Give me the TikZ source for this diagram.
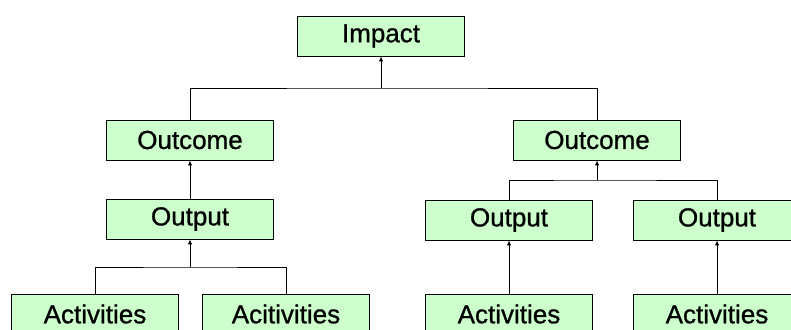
\documentclass[tikz,border=0pt]{standalone}
\usepackage{fontspec}
\setmainfont{Liberation Sans}
\newfontfamily\boxfont[FakeBold=0.9]{Liberation Sans}
\usetikzlibrary{arrows.meta}
\definecolor{boxgreen}{HTML}{CCFFCC}
\tikzset{
  box/.style={draw=black, fill=boxgreen, line width=0.9pt, minimum width=167pt, minimum height=40pt, inner sep=0pt, font=\boxfont\fontsize{26}{27}\selectfont, anchor=center},
  conn/.style={line width=0.9pt, draw=black},
  arr/.style={conn, -{Latex[length=5pt,width=4.5pt]}}
}
\begin{document}
\begin{tikzpicture}[x=1pt,y=-1pt]
\useasboundingbox (0,0) rectangle (791,329);
\begin{scope}
\clip (0,0) rectangle (791,329);
\node[box] (impact) at (381,36) {Impact};
\node[box] (outL) at (190,140) {Outcome};
\node[box] (outR) at (597,140) {Outcome};
\node[box] (opL) at (190,219) {Output};
\node[box] (opM) at (509,220) {Output};
\node[box] (opR) at (717,220) {Output};
\node[box] (a1) at (95,314) {Activities};
\node[box] (a2) at (286,314) {Acitivities};
\node[box] (a3) at (509,314) {Activities};
\node[box] (a4) at (717,314) {Activities};

\coordinate (j1) at (381,88);
\draw[conn] (outL.north) |- (j1) -| (outR.north);
\draw[arr] (j1) -- (impact.south);

\draw[arr] (opL.north) -- (outL.south);

\coordinate (j2) at (597,180);
\draw[conn] (opM.north) |- (j2) -| (opR.north);
\draw[arr] (j2) -- (outR.south);

\coordinate (j3) at (190,267);
\draw[conn] (a1.north) |- (j3) -| (a2.north);
\draw[arr] (j3) -- (opL.south);

\draw[arr] (a3.north) -- (opM.south);
\draw[arr] (a4.north) -- (opR.south);
\end{scope}
\end{tikzpicture}
\end{document}
